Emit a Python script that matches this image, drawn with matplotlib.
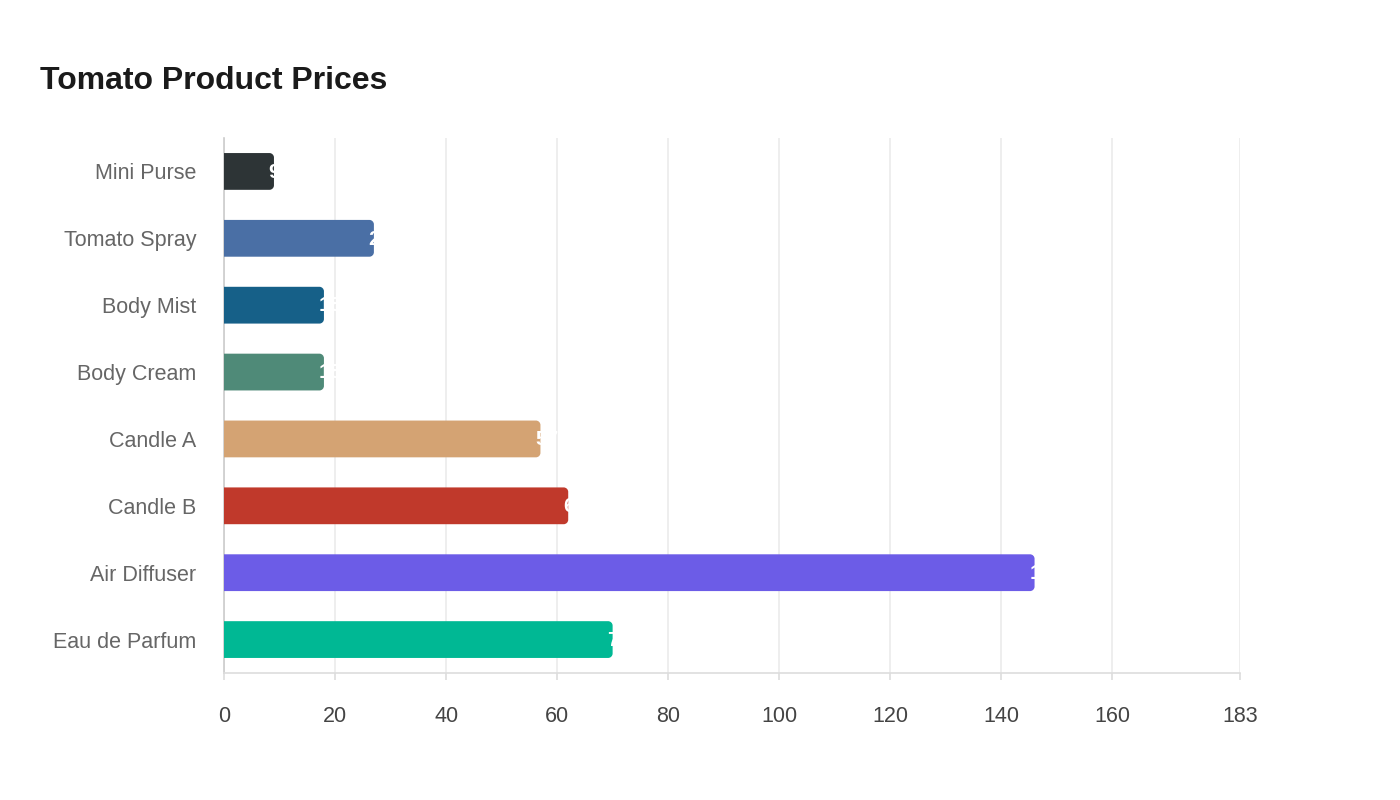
import matplotlib
matplotlib.use("Agg")
import matplotlib.pyplot as plt
from matplotlib.path import Path
from matplotlib.patches import PathPatch

plt.rcParams['font.family'] = ['Liberation Sans', 'DejaVu Sans']

categories = ["Mini Purse", "Tomato Spray", "Body Mist", "Body Cream",
              "Candle A", "Candle B", "Air Diffuser", "Eau de Parfum"]
values = [9, 27, 18, 18, 57, 62, 146, 70]
colors = ["#2d3436", "#4a6fa5", "#166088", "#4f8a78",
          "#d4a373", "#c0392b", "#6c5ce7", "#00b894"]
xticks = [0, 20, 40, 60, 80, 100, 120, 140, 160, 183]
xmax = 183

fig = plt.figure(figsize=(14, 8), dpi=100)
ax = fig.add_axes([0.16, 0.15875, 0.7257, 0.66875])

ypos = list(range(len(categories)))
bar_h = 0.55
bars = ax.barh(ypos, values, height=bar_h, color=colors, zorder=3)
ax.set_xlim(0, xmax)
ax.set_ylim(len(categories) - 0.5, -0.5)

fig.canvas.draw()
p0 = ax.transData.transform((0, 0))
p1 = ax.transData.transform((1, 1))
ppx = abs(p1[0] - p0[0])
ppy = abs(p1[1] - p0[1])
r_px = 4.5
rx = r_px / ppx
ry = r_px / ppy
k = 0.5523
for b in bars:
    x0 = b.get_x(); w = b.get_width(); y0 = b.get_y(); h = b.get_height()
    x1 = x0 + w; y1 = y0 + h
    verts = [(x0, y0), (x1 - rx, y0),
             (x1 - rx + k * rx, y0), (x1, y0 + ry - k * ry), (x1, y0 + ry),
             (x1, y1 - ry),
             (x1, y1 - ry + k * ry), (x1 - rx + k * rx, y1), (x1 - rx, y1),
             (x0, y1), (x0, y0)]
    codes = [Path.MOVETO, Path.LINETO,
             Path.CURVE4, Path.CURVE4, Path.CURVE4,
             Path.LINETO,
             Path.CURVE4, Path.CURVE4, Path.CURVE4,
             Path.LINETO, Path.CLOSEPOLY]
    patch = PathPatch(Path(verts, codes), facecolor=b.get_facecolor(),
                      edgecolor='none', zorder=3)
    b.set_visible(False)
    ax.add_patch(patch)

for y, v in zip(ypos, values):
    ax.annotate(str(v), (v, y), xytext=(-3.8, -0.5), textcoords='offset points',
                ha='left', va='center', color='white', fontsize=15,
                fontweight='bold', zorder=4)

ax.set_yticks(ypos)
ax.set_yticklabels(categories)
ax.set_xticks(xticks)
ax.set_xticklabels([str(t) for t in xticks])

ax.grid(axis='x', color='#ebebeb', linewidth=1.2, zorder=0)
ax.set_axisbelow(True)
for s in ['top', 'right']:
    ax.spines[s].set_visible(False)
ax.spines['left'].set_color('#cccccc')
ax.spines['bottom'].set_color('#dddddd')
ax.spines['left'].set_linewidth(1.2)
ax.spines['bottom'].set_linewidth(1.2)

ax.tick_params(axis='y', length=0, pad=20, labelsize=15.5, labelcolor='#666666')
ax.tick_params(axis='x', length=5, color='#dddddd', width=1.2, pad=18.5,
               labelsize=15.5, labelcolor='#444444')

fig.text(40 / 1400, 1 - 81 / 800, "Tomato Product Prices", fontsize=23,
         fontweight='bold', color='#1a1a1a', ha='left', va='center')

fig.savefig("out.png", dpi=100, facecolor='white')
